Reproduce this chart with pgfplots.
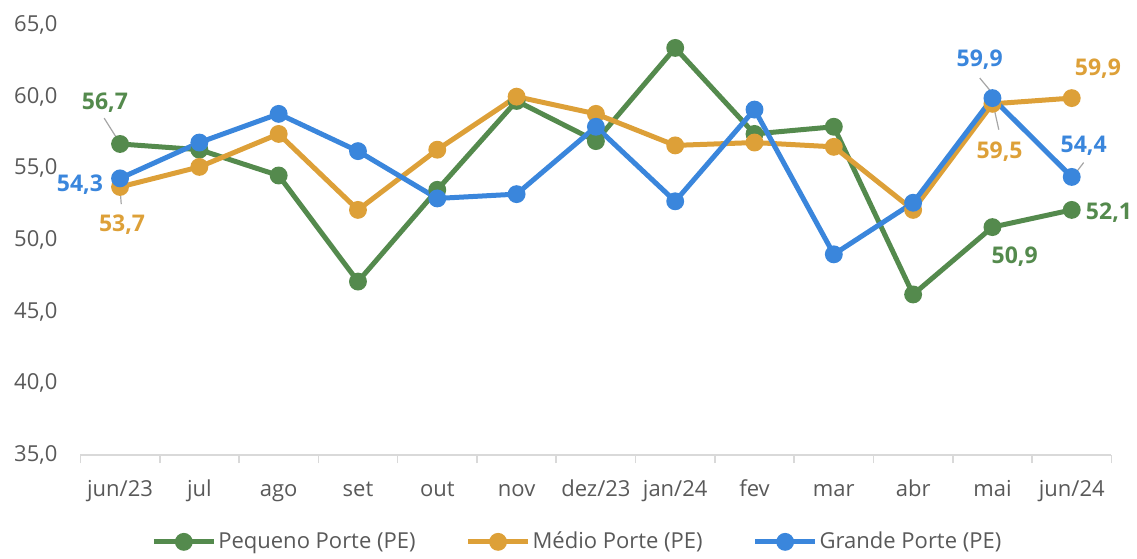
\documentclass[border=0pt]{standalone}
\usepackage{pgfplots}
\pgfplotsset{compat=1.18}
\usepackage{fontspec}
\setmainfont{Open Sans}
\definecolor{cPeq}{HTML}{548A4D}
\definecolor{cMed}{HTML}{DDA038}
\definecolor{cGra}{HTML}{3A86DC}
\definecolor{txt}{HTML}{595959}
\definecolor{axl}{HTML}{D9D9D9}
\definecolor{lead}{HTML}{A6A6A6}
\begin{document}
\begin{tikzpicture}
\useasboundingbox (0,0) rectangle (568.5pt,279pt);
\begin{axis}[
    at={(40.2pt,51.5pt)}, anchor=south west,
    scale only axis,
    width=515.5pt, height=215pt,
    xmin=-0.5, xmax=12.5,
    ymin=35, ymax=65,
    ytick={35,40,...,65},
    xtick={0,...,12},
    xticklabels={jun/23,jul,ago,set,out,nov,dez/23,jan/24,fev,mar,abr,mai,jun/24},
    minor xtick={-0.5,0.5,...,12.5},
    major tick length=0pt,
    minor tick length=4pt,
    tick align=outside,
    axis x line*=bottom,
    axis y line*=left,
    x axis line style={draw=axl, line width=0.8pt, -},
    y axis line style={draw=none},
    minor tick style={draw=axl, line width=0.8pt},
    major tick style={draw=none},
    tick label style={font=\fontsize{11}{13}\selectfont, text=txt},
    xticklabel style={yshift=-9pt, text height=1.5ex, text depth=0.4ex},
    yticklabel style={xshift=-8pt},
    /pgf/number format/.cd, fixed, fixed zerofill, precision=1, use comma, assume math mode=true, /tikz/.cd,
    clip=false,
    every axis plot/.append style={line width=2.5pt, mark=*, mark size=3.2pt, mark options={solid}},
    legend style={at={(0.482,-0.202)}, anchor=center, draw=none, fill=none,
        font=\fontsize{11}{13}\selectfont, text=txt,
        nodes={inner sep=1pt},
        /tikz/every even column/.append style={column sep=24pt}},
    legend columns=3,
    legend image code/.code={\draw[mark repeat=2, mark phase=2, #1] plot coordinates {(0pt,0pt) (15pt,0pt) (30pt,0pt)};},
]
\addplot[color=cPeq] coordinates {
    (0,56.7)(1,56.3)(2,54.5)(3,47.1)(4,53.5)(5,59.7)(6,56.9)(7,63.4)(8,57.4)(9,57.9)(10,46.2)(11,50.9)(12,52.1)};
\addlegendentry{Pequeno Porte (PE)}
\addplot[color=cMed] coordinates {
    (0,53.7)(1,55.1)(2,57.4)(3,52.1)(4,56.3)(5,60.0)(6,58.8)(7,56.6)(8,56.8)(9,56.5)(10,52.1)(11,59.5)(12,59.9)};
\addlegendentry{Médio Porte (PE)}
\addplot[color=cGra] coordinates {
    (0,54.3)(1,56.8)(2,58.8)(3,56.2)(4,52.9)(5,53.2)(6,57.9)(7,52.7)(8,59.1)(9,49.0)(10,52.6)(11,59.9)(12,54.4)};
\addlegendentry{Grande Porte (PE)}

% leader lines
\draw[lead, line width=0.6pt] (axis cs:-0.20,58.5) -- (axis cs:-0.03,57.0);
\draw[lead, line width=0.6pt] (axis cs:0.015,52.5) -- (axis cs:0.0,53.6);
\draw[lead, line width=0.6pt] (axis cs:10.84,61.3) -- (axis cs:11.02,60.1);
\draw[lead, line width=0.6pt] (axis cs:11.08,57.7) -- (axis cs:11.0,59.7);
\draw[lead, line width=0.6pt] (axis cs:12.15,55.4) -- (axis cs:12.04,54.6);

% data labels
\begin{scope}[every node/.style={font=\fontsize{11.5}{13}\selectfont\bfseries}]
\node[text=cPeq] at (axis cs:-0.19,59.56) {56,7};
\node[text=cGra] at (axis cs:-0.505,53.84) {54,3};
\node[text=cMed] at (axis cs:0.025,51.05) {53,7};
\node[text=cGra] at (axis cs:10.84,62.56) {59,9};
\node[text=cMed] at (axis cs:11.09,56.14) {59,5};
\node[text=cMed] at (axis cs:12.33,61.93) {59,9};
\node[text=cGra] at (axis cs:12.15,56.56) {54,4};
\node[text=cPeq] at (axis cs:12.47,51.88) {52,1};
\node[text=cPeq] at (axis cs:11.28,48.81) {50,9};
\end{scope}
\end{axis}
\end{tikzpicture}
\end{document}
